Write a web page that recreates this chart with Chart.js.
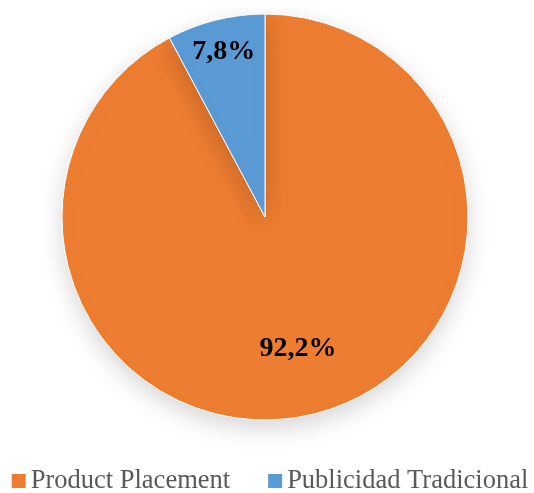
<!DOCTYPE html>
<html lang="es">
<head>
  <meta charset="UTF-8" />
  <title>Product Placement vs Publicidad Tradicional</title>
  <script src="https://cdn.jsdelivr.net/npm/chart.js"></script>
  <style>
    html, body { margin: 0; padding: 0; background: #fff; }
    #wrap { width: 534px; height: 493px; }
  </style>
</head>
<body>
  <div id="wrap"><canvas id="myChart" width="534" height="493"></canvas></div>

  <script>
    const categorias = ['Product Placement', 'Publicidad Tradicional'];
    const porcentajes = [92.2, 7.8];
    const colores = ['#ED7D31', '#5B9BD5'];

    const fuenteSerif = '"Liberation Serif", "Times New Roman", serif';

    // sombra suave bajo el circulo
    const sombra = {
      id: 'sombra',
      beforeDatasetDraw(chart) {
        const c = chart.ctx;
        c.save();
        c.shadowColor = 'rgba(0,0,0,0.17)';
        c.shadowBlur = 24;
        c.shadowOffsetY = 8;
      },
      afterDatasetDraw(chart) {
        chart.ctx.restore();
      }
    };

    // etiquetas de porcentaje dentro de cada sector
    const etiquetas = {
      id: 'etiquetas',
      afterDatasetsDraw(chart) {
        const c = chart.ctx;
        const meta = chart.getDatasetMeta(0);
        const factor = [0.67, 0.84];
        c.save();
        c.font = 'bold 28px ' + fuenteSerif;
        c.fillStyle = '#000';
        c.textAlign = 'center';
        c.textBaseline = 'middle';
        meta.data.forEach((arc, i) => {
          const mid = (arc.startAngle + arc.endAngle) / 2;
          const r = arc.outerRadius * factor[i];
          const x = arc.x + Math.cos(mid) * r;
          const y = arc.y + Math.sin(mid) * r;
          c.fillText(porcentajes[i].toString().replace('.', ',') + '%', x, y);
        });
        c.restore();
      }
    };

    // leyenda en una sola linea al pie del grafico
    const leyenda = {
      id: 'leyenda',
      afterDraw(chart) {
        const c = chart.ctx;
        const caja = 14, hueco = 5, separacion = 38, base = 488;
        c.save();
        c.font = '26.5px ' + fuenteSerif;
        c.textBaseline = 'alphabetic';
        const anchos = categorias.map(t => caja + hueco + c.measureText(t).width);
        const total = anchos.reduce((a, b) => a + b, 0) + separacion * (anchos.length - 1);
        let x = (chart.width - total) / 2 + 3;
        categorias.forEach((t, i) => {
          c.fillStyle = colores[i];
          c.fillRect(x, base - caja, caja, caja);
          c.fillStyle = '#595959';
          c.fillText(t, x + caja + hueco, base);
          x += anchos[i] + separacion;
        });
        c.restore();
      }
    };

    const ctx = document.getElementById('myChart').getContext('2d');
    new Chart(ctx, {
      type: 'pie',
      data: {
        labels: categorias,
        datasets: [{
          data: porcentajes,
          backgroundColor: colores,
          borderColor: '#fff',
          borderWidth: 1,
          radius: 203
        }]
      },
      options: {
        responsive: false,
        animation: false,
        layout: { padding: { top: 0, bottom: 59, left: 0, right: 4 } },
        plugins: {
          tooltip: { enabled: false },
          legend: { display: false }
        }
      },
      plugins: [sombra, etiquetas, leyenda]
    });
  </script>
</body>
</html>
